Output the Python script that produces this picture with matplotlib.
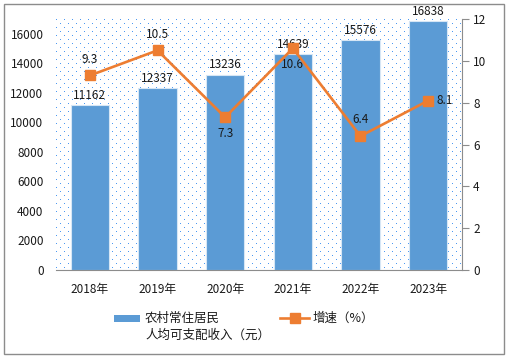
import matplotlib
matplotlib.use("Agg")
import numpy as np
import matplotlib.pyplot as plt
from matplotlib.patches import Rectangle
from matplotlib.lines import Line2D

plt.rcParams['font.family'] = ['Noto Sans CJK SC', 'DejaVu Sans']

years = ['2018年', '2019年', '2020年', '2021年', '2022年', '2023年']
income = [11162, 12337, 13236, 14639, 15576, 16838]
growth = [9.3, 10.5, 7.3, 10.6, 6.4, 8.1]
growth_pos = ['above', 'above', 'below', 'below', 'above', 'right']
left_ticks = [0, 2000, 4000, 6000, 8000, 10000, 12000, 14000, 16000]
right_ticks = [0, 2, 4, 6, 8, 10, 12]
legend_bar_lines = ['农村常住居民', '人均可支配收入（元）']
legend_line_label = '增速（%）'

BLUE = '#5B9BD5'
ORANGE = '#ED7D31'
TXT = '#1a1a1a'
FS = 8.5

W, H = 512, 357
fig = plt.figure(figsize=(W/100, H/100), dpi=100)
fig.patches.append(Rectangle((4/W, 1-354/H), 500/W, 350/H, transform=fig.transFigure,
                             fill=False, edgecolor='#8c8c8c', linewidth=1.0))

# plot area in pixels
L, R, T, B = 56, 462, 19, 270
pw, ph = R - L, B - T
pat = np.ones((ph, pw, 4))
dot = np.array([0.30, 0.60, 0.95, 1.0])
for r in range(0, ph, 4):
    off = 0 if (r // 4) % 2 == 0 else 4
    pat[r, off::8] = dot
fig.figimage(pat, xo=L, yo=H - B, origin='upper', zorder=0)

ax = fig.add_axes([L/W, 1-B/H, (R-L)/W, (B-T)/H])
ax.set_zorder(2)
ax.patch.set_visible(False)
ax.set_xlim(-0.5, len(years)-0.5)
ax.set_ylim(0, 17000)

x = list(range(len(years)))
ax.bar(x, income, width=0.57, color=BLUE, edgecolor='#D6E6F5', linewidth=0.8, zorder=2)
for xi, v in zip(x, income):
    ax.text(xi, v + 220, str(v), ha='center', va='bottom', fontsize=FS, color=TXT, zorder=5)

for s in ['top', 'right', 'left']:
    ax.spines[s].set_visible(False)
ax.spines['bottom'].set_color('#8c8c8c')
ax.set_yticks(left_ticks)
ax.set_yticklabels([str(t) for t in left_ticks], fontsize=FS, color=TXT)
ax.tick_params(axis='y', length=0, pad=9)
ax.set_xticks(x)
ax.set_xticklabels(years, fontsize=FS, color=TXT)
ax.tick_params(axis='x', length=0, pad=9)

ax2 = ax.twinx()
ax2.set_zorder(3)
ax2.patch.set_visible(False)
ax2.set_ylim(0, 12)
ax2.plot(x, growth, color=ORANGE, linewidth=1.9, marker='s', markersize=7.2, zorder=4)
for s in ['top', 'left', 'bottom']:
    ax2.spines[s].set_visible(False)
ax2.spines['right'].set_color('#8c8c8c')
ax2.set_yticks(right_ticks)
ax2.set_yticklabels([str(t) for t in right_ticks], fontsize=FS, color=TXT)
ax2.tick_params(axis='y', length=5, color='#8c8c8c', pad=3)

for xi, v, p in zip(x, growth, growth_pos):
    if p == 'above':
        ax2.annotate(f'{v}', (xi, v), xytext=(0, 7), textcoords='offset points',
                     ha='center', va='bottom', fontsize=FS, color=TXT)
    elif p == 'below':
        ax2.annotate(f'{v}', (xi, v), xytext=(0, -7), textcoords='offset points',
                     ha='center', va='top', fontsize=FS, color=TXT)
    else:
        ax2.annotate(f'{v}', (xi, v), xytext=(6, 0), textcoords='offset points',
                     ha='left', va='center', fontsize=FS, color=TXT)

# legend drawn manually
fig.patches.append(Rectangle((114/W, 1-322/H), 26/W, 7/H, transform=fig.transFigure,
                             facecolor=BLUE, edgecolor='none'))
fig.text(145/W, 1-318/H, legend_bar_lines[0], ha='left', va='center', fontsize=9, color=TXT)
fig.text(145/W, 1-335/H, legend_bar_lines[1], ha='left', va='center', fontsize=9, color=TXT)
fig.lines.append(Line2D([280/W, 294.5/W, 309/W], [1-318/H] * 3, transform=fig.transFigure,
                        color=ORANGE, linewidth=1.9, marker='s', markersize=7.2,
                        markevery=[1]))
fig.text(313/W, 1-318/H, legend_line_label, ha='left', va='center', fontsize=9, color=TXT)

fig.savefig('out.png', dpi=100)
